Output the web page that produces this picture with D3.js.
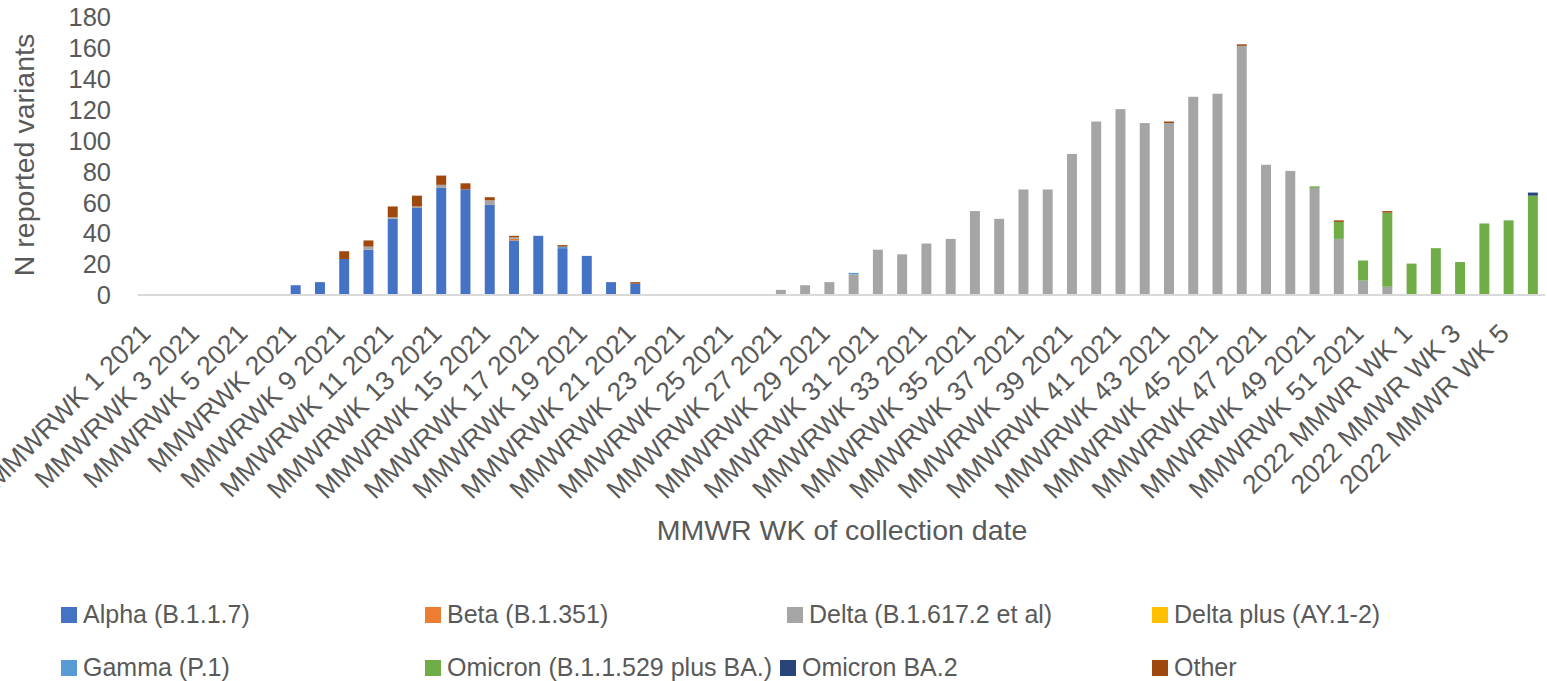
<!DOCTYPE html>
<html>
<head>
<meta charset="utf-8">
<script src="https://cdn.jsdelivr.net/npm/d3@7"></script>
<style>
  html, body { margin: 0; padding: 0; background: #ffffff; }
  svg { display: block; }
  text { font-family: "Liberation Sans", Arial, sans-serif; fill: #595959; }
</style>
</head>
<body>
<svg id="chart" width="1547" height="681"></svg>
<script>
// ---------------- DATA ----------------
const categories = [
  "MMWRWK 1 2021","MMWRWK 2 2021","MMWRWK 3 2021","MMWRWK 4 2021","MMWRWK 5 2021","MMWRWK 6 2021",
  "MMWRWK 2021","MMWRWK 8 2021","MMWRWK 9 2021","MMWRWK 10 2021","MMWRWK 11 2021","MMWRWK 12 2021",
  "MMWRWK 13 2021","MMWRWK 14 2021","MMWRWK 15 2021","MMWRWK 16 2021","MMWRWK 17 2021","MMWRWK 18 2021",
  "MMWRWK 19 2021","MMWRWK 20 2021","MMWRWK 21 2021","MMWRWK 22 2021","MMWRWK 23 2021","MMWRWK 24 2021",
  "MMWRWK 25 2021","MMWRWK 26 2021","MMWRWK 27 2021","MMWRWK 28 2021","MMWRWK 29 2021","MMWRWK 30 2021",
  "MMWRWK 31 2021","MMWRWK 32 2021","MMWRWK 33 2021","MMWRWK 34 2021","MMWRWK 35 2021","MMWRWK 36 2021",
  "MMWRWK 37 2021","MMWRWK 38 2021","MMWRWK 39 2021","MMWRWK 40 2021","MMWRWK 41 2021","MMWRWK 42 2021",
  "MMWRWK 43 2021","MMWRWK 44 2021","MMWRWK 45 2021","MMWRWK 46 2021","MMWRWK 47 2021","MMWRWK 48 2021",
  "MMWRWK 49 2021","MMWRWK 50 2021","MMWRWK 51 2021","MMWRWK 52 2021",
  "2022 MMWR WK 1","2022 MMWR WK 2","2022 MMWR WK 3","2022 MMWR WK 4","2022 MMWR WK 5","2022 MMWR WK 6"
];

const alpha     = [0,0,0,0,0,0, 6,8,23,29,49,56, 69,68,58,35,38,30, 25,8,7,0,0,0, 0,0,0,0,0,0, 0,0,0,0,0,0, 0,0,0,0,0,0, 0,0,0,0,0,0, 0,0,0,0, 0,0,0,0,0,0];
const beta      = [0,0,0,0,0,0, 0,0,0,0,0,0, 0,0,0,1,0,0, 0,0,0,0,0,0, 0,0,0,0,0,0, 0,0,0,0,0,0, 0,0,0,0,0,0, 0,0,0,0,0,0, 0,0,0,0, 0,0,0,0,0,0];
const delta     = [0,0,0,0,0,0, 0,0,0,2,1,1, 2,0,3,1,0,0, 0,0,0,0,0,0, 0,0,3,6,8,13, 29,26,33,36,54,49, 68,68,91,112,120,111, 111,128,130,161,84,80, 69,36,9,5, 0,0,0,0,0,0];
const deltaPlus = [0,0,0,0,0,0, 0,0,0,0,0,0, 0,0,0,0,0,0, 0,0,0,0,0,0, 0,0,0,0,0,0, 0,0,0,0,0,0, 0,0,0,0,0,0, 0,0,0,0,0,0, 0,0,0,0, 0,0,0,0,0,0];
const gamma     = [0,0,0,0,0,0, 0,0,0,0,0,0, 0,0,0,0,0,1, 0,0,0,0,0,0, 0,0,0,0,0,1, 0,0,0,0,0,0, 0,0,0,0,0,0, 0,0,0,0,0,0, 0,0,0,0, 0,0,0,0,0,0];
const omicron   = [0,0,0,0,0,0, 0,0,0,0,0,0, 0,0,0,0,0,0, 0,0,0,0,0,0, 0,0,0,0,0,0, 0,0,0,0,0,0, 0,0,0,0,0,0, 0,0,0,0,0,0, 1,11,13,48, 20,30,21,46,48,64];
const omicronBA2= [0,0,0,0,0,0, 0,0,0,0,0,0, 0,0,0,0,0,0, 0,0,0,0,0,0, 0,0,0,0,0,0, 0,0,0,0,0,0, 0,0,0,0,0,0, 0,0,0,0,0,0, 0,0,0,0, 0,0,0,0,0,2];
const other     = [0,0,0,0,0,0, 0,0,5,4,7,7, 6,4,2,1,0,1, 0,0,1,0,0,0, 0,0,0,0,0,0, 0,0,0,0,0,0, 0,0,0,0,0,0, 1,0,0,1,0,0, 0,1,0,1, 0,0,0,0,0,0];

const seriesNames = ["Alpha (B.1.1.7)","Beta (B.1.351)","Delta (B.1.617.2 et al)","Delta plus (AY.1-2)",
                     "Gamma (P.1)","Omicron (B.1.1.529 plus BA.)","Omicron BA.2","Other"];
const seriesColors = ["#4472C4","#ED7D31","#A5A5A5","#FFC000","#5B9BD5","#70AD47","#264478","#9E480E"];
const yTicks = [0,20,40,60,80,100,120,140,160,180];

// ---------------- BUILD ----------------
const seriesValues = [alpha, beta, delta, deltaPlus, gamma, omicron, omicronBA2, other];
const keys = seriesNames;
const table = categories.map((c, i) => {
  const row = { cat: c };
  keys.forEach((k, s) => row[k] = seriesValues[s][i]);
  return row;
});
const stacked = d3.stack().keys(keys)(table);

const svg = d3.select("#chart");

const x = d3.scaleBand().domain(categories).range([138, 1545]).paddingInner(0.59).paddingOuter(0.295);
const y = d3.scaleLinear().domain([0, 180]).range([294.5, 16.5]);
const color = d3.scaleOrdinal().domain(keys).range(seriesColors);

// bars
svg.append("g").selectAll("g")
  .data(stacked).join("g")
  .attr("fill", d => color(d.key))
  .selectAll("rect")
  .data(d => d.filter(p => p[1] - p[0] > 0))
  .join("rect")
  .attr("x", d => x(d.data.cat))
  .attr("width", x.bandwidth())
  .attr("y", d => y(d[1]))
  .attr("height", d => y(d[0]) - y(d[1]));

// x axis line
svg.append("line")
  .attr("x1", 138).attr("x2", 1545)
  .attr("y1", y(0) + 0.5).attr("y2", y(0) + 0.5)
  .attr("stroke", "#D9D9D9").attr("stroke-width", 2);

// y axis tick labels
const yAxis = d3.axisLeft(y).tickValues(yTicks).tickSize(0).tickPadding(0);
const yg = svg.append("g").attr("transform", "translate(111,0)").call(yAxis);
yg.select(".domain").remove();
yg.selectAll("text")
  .attr("font-family", "Liberation Sans, Arial, sans-serif")
  .attr("font-size", 25.5).attr("fill", "#595959").attr("dy", "0.36em");

// x tick labels (every other category)
svg.append("g").selectAll("text")
  .data(categories.filter((c, i) => i % 2 === 0))
  .join("text")
  .attr("transform", d => `translate(${x(d) + x.bandwidth() / 2 + 2},335) rotate(-45)`)
  .attr("text-anchor", "end")
  .attr("font-size", 26.5)
  .text(d => d);

// axis titles
svg.append("text")
  .attr("x", 842).attr("y", 540)
  .attr("text-anchor", "middle")
  .attr("font-size", 28.5)
  .text("MMWR WK of collection date");

svg.append("text")
  .attr("transform", "translate(34,155) rotate(-90)")
  .attr("text-anchor", "middle")
  .attr("font-size", 28.5)
  .text("N reported variants");

// legend
const legendPos = [
  [61, 623], [425, 623], [787, 623], [1152, 623],
  [61, 676], [425, 676], [780, 676], [1152, 676]
];
const lg = svg.append("g").selectAll("g")
  .data(keys).join("g")
  .attr("transform", (d, i) => `translate(${legendPos[i][0]},${legendPos[i][1]})`);
lg.append("rect").attr("x", 0).attr("y", -16).attr("width", 16).attr("height", 16)
  .attr("fill", d => color(d));
lg.append("text").attr("x", 22).attr("y", 0).attr("font-size", 25).text(d => d);
</script>
</body>
</html>
